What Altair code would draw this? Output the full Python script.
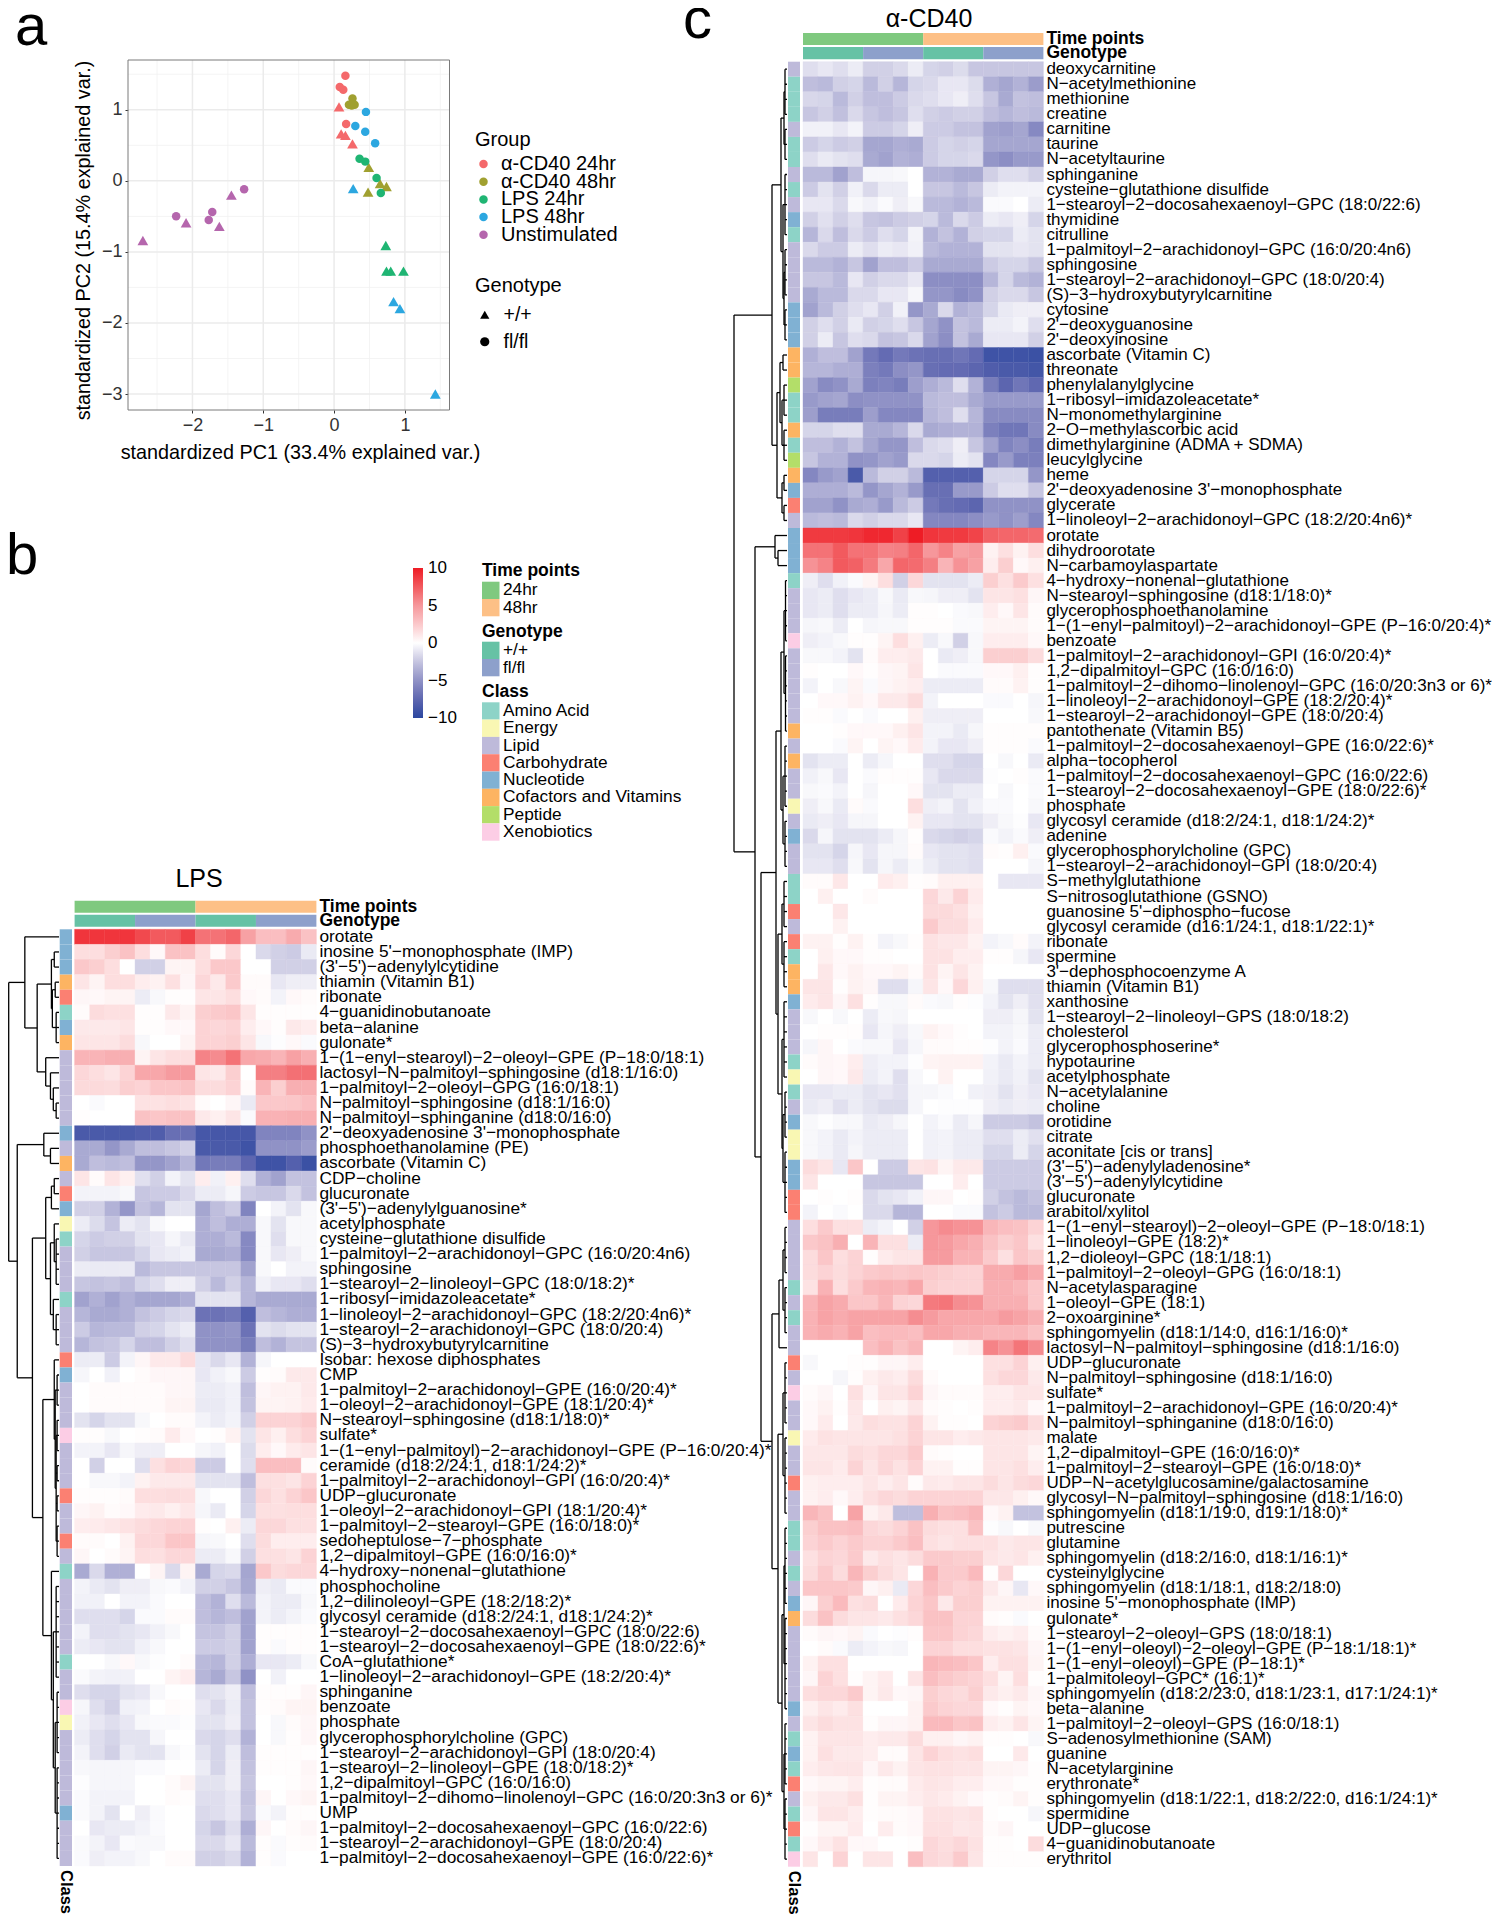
import altair as alt
import pandas as pd

W, H = 1484, 1907
FONT = "Liberation Sans"

# ---------- PCA ----------
PC_GROUPS = ["α-CD40 24hr", "α-CD40 48hr", "LPS 24hr", "LPS 48hr", "Unstimulated"]
PC_COLORS = ["#F4696B", "#A0A030", "#1FB573", "#2CA7E0", "#B566AD"]
PC_CIRCLES = [
    [(0.16, 1.48), (0.08, 1.32), (0.13, 1.28), (0.17, 0.80)],
    [(0.26, 1.16), (0.21, 1.07), (0.25, 1.06), (0.29, 1.07)],
    [(0.36, 0.31), (0.44, 0.27), (0.60, 0.04), (0.66, -0.17)],
    [(0.45, 0.97), (0.30, 0.77), (0.44, 0.69), (0.58, 0.53)],
    [(-1.27, -0.12), (-1.72, -0.44), (-1.77, -0.55), (-2.23, -0.50)],
]
PC_TRIANGLES = [
    [(0.07, 1.04), (0.10, 0.66), (0.16, 0.64), (0.26, 0.52)],
    [(0.49, 0.19), (0.65, -0.04), (0.74, -0.08), (0.48, -0.16)],
    [(0.73, -0.91), (0.74, -1.27), (0.80, -1.27), (0.98, -1.27)],
    [(0.27, -0.11), (0.84, -1.70), (0.93, -1.80), (1.43, -3.0)],
    [(-1.45, -0.20), (-2.09, -0.59), (-1.62, -0.64), (-2.70, -0.84)],
]
X_MAJOR = [-2, -1, 0, 1]
X_MINOR = [-2.5, -1.5, -0.5, 0.5, 1.5]
Y_MAJOR = [-3, -2, -1, 0, 1]
Y_MINOR = [-2.5, -1.5, -0.5, 0.5, 1.5]
X_DOM = [-2.91, 1.63]
Y_DOM = [-3.225, 1.70]

# ---------- Heat maps ----------
CLASS_NAMES = {"A": "Amino Acid", "E": "Energy", "L": "Lipid", "C": "Carbohydrate", "N": "Nucleotide",
               "V": "Cofactors and Vitamins", "P": "Peptide", "X": "Xenobiotics"}
CLASS_COLORS = ["#8dd3c7", "#f9f7b3", "#bebada", "#fb8072", "#80b1d3", "#fdb462", "#b3de69", "#fccde5"]
TIME_DOMAIN = ["24hr", "48hr"]
TIME_COLORS = ["#7fc97f", "#fdc086"]
GENO_DOMAIN = ["+/+", "fl/fl"]
GENO_COLORS = ["#66c2a5", "#8da0cb"]
HEAT_STOPS = [-10, -7.5, -5, -2.5, 0, 2.5, 5, 7.5, 10]
HEAT_COLORS = ["#2b479f", "#5e66b0", "#9092c6", "#c5c4e0", "#ffffff", "#fbc8ca", "#f6979b", "#f25a5e", "#ee1c25"]

LPS_LABELS = ["orotate", "inosine 5'−monophosphate (IMP)", "(3'−5')−adenylylcytidine", "thiamin (Vitamin B1)", "ribonate",
 "4−guanidinobutanoate", "beta−alanine", "gulonate*", "1−(1−enyl−stearoyl)−2−oleoyl−GPE (P−18:0/18:1)",
 "lactosyl−N−palmitoyl−sphingosine (d18:1/16:0)", "1−palmitoyl−2−oleoyl−GPG (16:0/18:1)", "N−palmitoyl−sphingosine (d18:1/16:0)",
 "N−palmitoyl−sphinganine (d18:0/16:0)", "2'−deoxyadenosine 3'−monophosphate", "phosphoethanolamine (PE)", "ascorbate (Vitamin C)",
 "CDP−choline", "glucuronate", "(3'−5')−adenylylguanosine*", "acetylphosphate", "cysteine−glutathione disulfide",
 "1−palmitoyl−2−arachidonoyl−GPC (16:0/20:4n6)", "sphingosine", "1−stearoyl−2−linoleoyl−GPC (18:0/18:2)*", "1−ribosyl−imidazoleacetate*",
 "1−linoleoyl−2−arachidonoyl−GPC (18:2/20:4n6)*", "1−stearoyl−2−arachidonoyl−GPC (18:0/20:4)", "(S)−3−hydroxybutyrylcarnitine",
 "Isobar: hexose diphosphates", "CMP", "1−palmitoyl−2−arachidonoyl−GPE (16:0/20:4)*", "1−oleoyl−2−arachidonoyl−GPE (18:1/20:4)*",
 "N−stearoyl−sphingosine (d18:1/18:0)*", "sulfate*", "1−(1−enyl−palmitoyl)−2−arachidonoyl−GPE (P−16:0/20:4)*",
 "ceramide (d18:2/24:1, d18:1/24:2)*", "1−palmitoyl−2−arachidonoyl−GPI (16:0/20:4)*", "UDP−glucuronate", "1−oleoyl−2−arachidonoyl−GPI (18:1/20:4)*",
 "1−palmitoyl−2−stearoyl−GPE (16:0/18:0)*", "sedoheptulose−7−phosphate", "1,2−dipalmitoyl−GPE (16:0/16:0)*", "4−hydroxy−nonenal−glutathione",
 "phosphocholine", "1,2−dilinoleoyl−GPE (18:2/18:2)*", "glycosyl ceramide (d18:2/24:1, d18:1/24:2)*", "1−stearoyl−2−docosahexaenoyl−GPC (18:0/22:6)",
 "1−stearoyl−2−docosahexaenoyl−GPE (18:0/22:6)*", "CoA−glutathione*", "1−linoleoyl−2−arachidonoyl−GPE (18:2/20:4)*", "sphinganine", "benzoate",
 "phosphate", "glycerophosphorylcholine (GPC)", "1−stearoyl−2−arachidonoyl−GPI (18:0/20:4)", "1−stearoyl−2−linoleoyl−GPE (18:0/18:2)*",
 "1,2−dipalmitoyl−GPC (16:0/16:0)", "1−palmitoyl−2−dihomo−linolenoyl−GPC (16:0/20:3n3 or 6)*", "UMP", "1−palmitoyl−2−docosahexaenoyl−GPC (16:0/22:6)",
 "1−stearoyl−2−arachidonoyl−GPE (18:0/20:4)", "1−palmitoyl−2−docosahexaenoyl−GPE (16:0/22:6)*"]
LPS_CLASSES = "NNNVCANVLLLLLNLVLCNEALLLALLLCNLLLXLLLCLLCLALLLLLALLXELLLLLNLLL"
# cell values, in tenths of a unit
LPS_VALUES = [
[90,90,90,90,82,75,75,85,65,65,70,45,30,30,40,28],
[15,15,22,28,15,3,28,28,15,2,18,0,-16,-20,-22,-9],
[25,22,15,0,-20,-20,5,5,15,25,25,0,0,-20,-20,-20],
[12,5,15,15,8,6,14,4,18,10,24,2,2,-10,-7,-7],
[4,3,5,5,-8,-3,1,1,12,12,15,3,2,-5,3,2],
[2,16,14,14,1,1,10,5,22,24,26,12,1,1,1,1],
[10,10,10,12,1,1,3,3,20,18,20,8,3,1,10,8],
[12,12,12,16,-3,0,0,5,20,20,22,12,-3,-1,3,-2],
[35,35,38,38,5,12,15,15,58,55,65,42,40,35,45,38],
[18,15,12,20,42,42,48,48,12,10,22,0,60,60,66,66],
[17,17,16,22,20,26,26,28,16,16,20,2,35,22,38,38],
[0,-2,0,0,13,13,15,13,2,0,4,-9,25,25,26,30],
[1,0,0,0,28,26,28,28,10,7,12,-2,36,36,38,38],
[-85,-85,-85,-85,-82,-82,-70,-70,-87,-87,-87,-87,-58,-58,-58,-50],
[-38,-38,-48,-38,-28,-28,-24,-20,-85,-85,-85,-90,-50,-50,-50,-45],
[-38,-28,-30,-28,-48,-48,-42,-32,-65,-62,-62,-75,-90,-90,-80,-92],
[12,2,12,7,-13,-20,-5,-12,8,-6,7,-14,-35,-42,-26,-26],
[-5,-5,-5,-3,-24,-22,-22,-16,-8,-8,-4,-22,-24,-24,-16,-26],
[-20,-20,-34,-48,-26,-32,-12,-12,-40,-28,-22,-58,0,-5,-12,-3],
[-8,-15,-25,-8,-12,-3,0,0,-36,-28,-36,-36,-3,-12,-3,-3],
[-18,-22,-20,-20,-12,-10,-4,-9,-36,-36,-30,-55,-3,-14,-3,-3],
[-20,-24,-24,-24,-18,-10,-8,-6,-38,-38,-36,-55,-3,-10,-7,-3],
[-8,-9,-9,-9,-30,-24,-24,-24,-24,-24,-24,-42,-3,0,-5,-5],
[-24,-26,-24,-28,-18,-14,-7,-7,-20,-30,-20,-32,-6,-10,-10,-14],
[-42,-35,-42,-35,-40,-40,-40,-36,-12,-12,-12,-32,-38,-38,-38,-38],
[-32,-38,-38,-35,-26,-22,-18,-16,-68,-68,-65,-80,-28,-32,-36,-36],
[-22,-32,-30,-30,-20,-18,-12,-8,-50,-50,-48,-68,-12,-15,-12,-12],
[-32,-26,-24,-18,-28,-28,-20,-14,-50,-50,-50,-62,-28,-34,-25,-25],
[-8,-8,-22,-5,4,10,10,16,-10,-16,-10,-34,-4,0,0,0],
[-4,0,-6,0,2,4,4,4,-10,-6,-3,-22,1,2,10,10],
[0,2,2,2,2,2,4,4,-8,-8,-6,-28,4,6,6,10],
[0,2,2,2,2,2,5,5,-9,-9,-6,-26,5,5,6,9],
[-12,-18,-12,-12,-3,0,2,2,-5,-8,-5,-20,20,20,20,24],
[1,1,-3,0,1,2,9,3,0,1,6,-12,12,7,15,20],
[-5,-5,-10,-4,-7,-7,0,0,-4,-6,0,-15,8,3,9,12],
[0,-20,0,0,-14,14,20,18,-22,-22,0,-14,30,30,30,2],
[0,-3,-3,-5,6,10,10,10,-12,-12,-12,-28,14,14,12,20],
[1,1,1,2,15,15,16,15,-3,0,0,-20,18,14,20,26],
[4,6,2,3,9,10,7,11,-4,-9,0,-18,14,14,15,15],
[8,9,11,13,16,18,20,20,1,0,7,-8,18,18,14,14],
[2,2,0,6,18,18,26,26,-4,-3,0,-14,16,8,8,8],
[4,0,2,5,15,14,18,18,-8,-8,-3,-20,14,14,12,20],
[-38,-16,-35,-35,0,5,-16,5,-38,-18,-16,-40,25,16,18,18],
[-5,-9,-12,-7,-7,-3,-2,-5,-20,-20,-24,-38,-7,-9,-2,-2],
[-6,-6,0,-5,-5,-2,0,0,-28,-34,-14,-30,-5,-8,-8,-3],
[-14,-14,-14,-18,-2,-2,2,2,-28,-32,-28,-42,-5,-8,-5,-2],
[-5,-14,-14,-12,-10,-6,-3,0,-25,-25,-20,-42,1,1,1,1],
[-8,-10,-12,-12,-6,-3,0,0,-22,-22,-20,-42,1,-2,1,1],
[0,0,-3,3,-3,-1,0,2,-30,-32,-20,-36,-10,-10,-8,-3],
[-2,-5,-6,-6,0,0,5,8,-32,-38,-24,-50,0,-6,0,0],
[-14,-18,-18,-12,-10,-3,0,0,-14,-12,-7,-28,1,1,1,4],
[-4,-14,-20,-6,-5,0,2,1,-10,-16,-8,-26,1,2,5,5],
[-6,-10,-14,-10,-3,-2,-2,-1,-12,-12,-7,-26,0,-3,2,4],
[-8,-14,-18,-12,-12,-4,0,0,-16,-18,-14,-34,0,-3,1,4],
[-5,-14,-20,-9,-12,-12,-3,-1,-12,-18,-8,-28,1,1,1,1],
[-3,-4,-4,-4,-2,-2,0,0,-8,-18,-7,-26,1,1,1,4],
[-1,-4,-4,-4,0,0,2,5,-12,-12,-7,-24,0,0,1,3],
[-2,-5,-5,-5,0,0,2,1,-14,-14,-10,-26,4,0,3,5],
[-2,-5,-12,0,-7,-2,0,0,-16,-14,-10,-24,-2,-5,1,1],
[0,-10,-8,-8,-5,-2,0,0,-18,-24,-14,-36,4,0,2,4],
[-2,-5,-10,-2,-3,-3,0,0,-16,-16,-10,-30,1,-2,1,2],
[-2,-7,-5,-5,-3,0,2,2,-20,-20,-16,-34,1,-2,0,0],
]
LPS_TREE = [53,
  [36, 1, [23, [8, [5, 2], [7, [4, 2], [3, 3]]], [14, 1, [9, 1, [6, 1, [3, 2]]]]]],
  [44, [16, 1, [9, 2]],
   [28, [14, [8, [5, 2], 1], [9, [5, 1, [3, 4]], [6, 1, [3, 3]]]],
    [17, [5, 1, [4, [2, 3], [3, [2, 3], [2, 2], [2, 2], [2, 3]]]],
     [8, 1, [6, [3, 7], [4, [2, 5], [2, 7]]]]]]]]

CD40_LABELS = ["deoxycarnitine", "N−acetylmethionine", "methionine", "creatine", "carnitine", "taurine", "N−acetyltaurine", "sphinganine",
 "cysteine−glutathione disulfide", "1−stearoyl−2−docosahexaenoyl−GPC (18:0/22:6)", "thymidine", "citrulline", "1−palmitoyl−2−arachidonoyl−GPC (16:0/20:4n6)",
 "sphingosine", "1−stearoyl−2−arachidonoyl−GPC (18:0/20:4)", "(S)−3−hydroxybutyrylcarnitine", "cytosine", "2'−deoxyguanosine", "2'−deoxyinosine",
 "ascorbate (Vitamin C)", "threonate", "phenylalanylglycine", "1−ribosyl−imidazoleacetate*", "N−monomethylarginine", "2−O−methylascorbic acid",
 "dimethylarginine (ADMA + SDMA)", "leucylglycine", "heme", "2'−deoxyadenosine 3'−monophosphate", "glycerate", "1−linoleoyl−2−arachidonoyl−GPC (18:2/20:4n6)*",
 "orotate", "dihydroorotate", "N−carbamoylaspartate", "4−hydroxy−nonenal−glutathione", "N−stearoyl−sphingosine (d18:1/18:0)*", "glycerophosphoethanolamine",
 "1−(1−enyl−palmitoyl)−2−arachidonoyl−GPE (P−16:0/20:4)*", "benzoate", "1−palmitoyl−2−arachidonoyl−GPI (16:0/20:4)*", "1,2−dipalmitoyl−GPC (16:0/16:0)",
 "1−palmitoyl−2−dihomo−linolenoyl−GPC (16:0/20:3n3 or 6)*", "1−linoleoyl−2−arachidonoyl−GPE (18:2/20:4)*", "1−stearoyl−2−arachidonoyl−GPE (18:0/20:4)",
 "pantothenate (Vitamin B5)", "1−palmitoyl−2−docosahexaenoyl−GPE (16:0/22:6)*", "alpha−tocopherol", "1−palmitoyl−2−docosahexaenoyl−GPC (16:0/22:6)",
 "1−stearoyl−2−docosahexaenoyl−GPE (18:0/22:6)*", "phosphate", "glycosyl ceramide (d18:2/24:1, d18:1/24:2)*", "adenine", "glycerophosphorylcholine (GPC)",
 "1−stearoyl−2−arachidonoyl−GPI (18:0/20:4)", "S−methylglutathione", "S−nitrosoglutathione (GSNO)", "guanosine 5'−diphospho−fucose",
 "glycosyl ceramide (d16:1/24:1, d18:1/22:1)*", "ribonate", "spermine", "3'−dephosphocoenzyme A", "thiamin (Vitamin B1)", "xanthosine",
 "1−stearoyl−2−linoleoyl−GPS (18:0/18:2)", "cholesterol", "glycerophosphoserine*", "hypotaurine", "acetylphosphate", "N−acetylalanine", "choline", "orotidine",
 "citrate", "aconitate [cis or trans]", "(3'−5')−adenylyladenosine*", "(3'−5')−adenylylcytidine", "glucuronate", "arabitol/xylitol",
 "1−(1−enyl−stearoyl)−2−oleoyl−GPE (P−18:0/18:1)", "1−linoleoyl−GPE (18:2)*", "1,2−dioleoyl−GPC (18:1/18:1)", "1−palmitoyl−2−oleoyl−GPG (16:0/18:1)",
 "N−acetylasparagine", "1−oleoyl−GPE (18:1)", "2−oxoarginine*", "sphingomyelin (d18:1/14:0, d16:1/16:0)*", "lactosyl−N−palmitoyl−sphingosine (d18:1/16:0)",
 "UDP−glucuronate", "N−palmitoyl−sphingosine (d18:1/16:0)", "sulfate*", "1−palmitoyl−2−arachidonoyl−GPE (16:0/20:4)*", "N−palmitoyl−sphinganine (d18:0/16:0)",
 "malate", "1,2−dipalmitoyl−GPE (16:0/16:0)*", "1−palmitoyl−2−stearoyl−GPE (16:0/18:0)*", "UDP−N−acetylglucosamine/galactosamine",
 "glycosyl−N−palmitoyl−sphingosine (d18:1/16:0)", "sphingomyelin (d18:1/19:0, d19:1/18:0)*", "putrescine", "glutamine", "sphingomyelin (d18:2/16:0, d18:1/16:1)*",
 "cysteinylglycine", "sphingomyelin (d18:1/18:1, d18:2/18:0)", "inosine 5'−monophosphate (IMP)", "gulonate*", "1−stearoyl−2−oleoyl−GPS (18:0/18:1)",
 "1−(1−enyl−oleoyl)−2−oleoyl−GPE (P−18:1/18:1)*", "1−(1−enyl−oleoyl)−GPE (P−18:1)*", "1−palmitoleoyl−GPC* (16:1)*",
 "sphingomyelin (d18:2/23:0, d18:1/23:1, d17:1/24:1)*", "beta−alanine", "1−palmitoyl−2−oleoyl−GPS (16:0/18:1)", "S−adenosylmethionine (SAM)", "guanine",
 "N−acetylarginine", "erythronate*", "sphingomyelin (d18:1/22:1, d18:2/22:0, d16:1/24:1)*", "spermidine", "UDP−glucose", "4−guanidinobutanoate", "erythritol"]
CD40_CLASSES = ("LAAALAALALNALLLLNNNVVPAAVAPVNCLNNNALLLXLLLLLVLVLLELNLLAACLCAVVNLLLAEALNEENNCC"
                "LLLLALALLCLXLLELLCLLAALALNVLLLLLNLANACLACAX")
CD40_VALUES = [
[-14,-10,-14,-8,-20,-20,-16,-8,-18,-20,-15,-24,-24,-24,-24,-24],
[-28,-30,-20,-18,-30,-20,-32,-18,-16,-10,-10,-15,-35,-40,-34,-45],
[-17,-18,-30,-20,-28,-28,-22,-16,-14,-10,-7,-14,-24,-38,-26,-28],
[-24,-20,-27,-16,-24,-28,-24,-14,-20,-22,-20,-20,-28,-32,-28,-30],
[-6,-6,-10,-5,-22,-22,-18,-7,-22,-22,-26,-26,-42,-44,-40,-55],
[-22,-18,-22,-20,-40,-40,-36,-38,-22,-18,-20,-18,-40,-40,-40,-40],
[-14,-9,-12,-14,-38,-42,-34,-36,-22,-18,-18,-16,-48,-52,-46,-46],
[-30,-30,-42,-28,-4,-4,-3,0,-34,-34,-38,-38,-20,-14,-14,-20],
[-22,-12,-20,-6,-16,-8,-8,0,-24,-24,-30,-24,-8,-5,-5,-5],
[-10,-10,-16,-3,-6,-2,-7,-3,-30,-30,-34,-30,-2,-2,0,-8],
[-20,-13,-20,-14,-24,-26,-22,-20,-18,-30,-16,-22,-8,-10,-7,-18],
[-32,-16,-28,-16,-22,-14,-18,-5,-34,-26,-34,-20,-18,-18,-8,-12],
[-16,-22,-22,-8,-14,-8,-10,-6,-30,-34,-34,-34,-12,-12,-10,-12],
[-30,-30,-34,-24,-42,-28,-28,-22,-38,-38,-38,-38,-22,-18,-18,-24],
[-24,-24,-30,-10,-20,-16,-16,-10,-52,-52,-52,-52,-32,-18,-30,-34],
[-38,-30,-30,-16,-16,-10,-10,-4,-48,-48,-54,-50,-20,-16,-16,-24],
[-42,-30,-20,-14,-10,-20,-6,-48,-38,-16,-34,-30,-18,-9,-7,-7],
[-20,-14,-20,-9,-20,-18,-14,-24,-40,-50,-26,-30,-8,-8,-5,-14],
[-20,-8,-24,-14,-16,-26,-24,-16,-42,-52,-26,-38,-10,-10,-10,-20],
[-35,-28,-28,-42,-64,-72,-64,-68,-70,-70,-66,-72,-90,-90,-90,-92],
[-32,-32,-36,-36,-60,-64,-52,-48,-70,-72,-72,-76,-82,-85,-85,-88],
[-42,-54,-50,-38,-60,-58,-62,-44,-36,-30,-14,-34,-62,-76,-66,-74],
[-46,-42,-40,-52,-50,-50,-50,-50,-30,-28,-28,-38,-46,-46,-46,-46],
[-44,-62,-62,-62,-44,-56,-56,-56,-32,-28,-14,-32,-54,-54,-54,-54],
[-18,-18,-14,-14,-38,-38,-32,-16,-38,-36,-34,-34,-60,-66,-66,-54],
[-28,-28,-34,-26,-40,-48,-48,-28,-16,-14,-7,-24,-42,-58,-52,-62],
[-24,-34,-34,-50,-48,-42,-46,-16,-16,-18,-8,-12,-56,-46,-60,-60],
[-56,-46,-42,-85,-30,-20,-20,-30,-80,-80,-80,-80,-18,-18,-18,-48],
[-36,-36,-36,-30,-48,-40,-34,-46,-70,-70,-46,-46,-22,-14,-14,-24],
[-42,-42,-50,-38,-36,-46,-30,-22,-64,-70,-72,-76,-50,-50,-50,-50],
[-30,-28,-30,-16,-20,-16,-16,-10,-56,-56,-56,-52,-46,-50,-44,-56],
[88,88,88,90,95,95,85,100,90,88,88,84,72,70,70,68],
[65,65,75,65,65,58,60,70,50,58,45,48,6,14,6,15],
[52,58,75,72,62,42,70,68,60,35,52,45,8,22,3,7],
[-7,-14,-6,-2,5,15,-20,18,-12,-12,-12,-8,22,14,24,14],
[-10,-8,-14,-10,-8,-3,-9,-3,-4,-7,-7,-12,12,12,14,4],
[-10,-8,-14,-8,-8,-4,-8,1,1,0,-2,-3,8,3,12,2],
[-4,-3,-8,0,-4,-3,-3,1,1,1,-2,-2,5,5,5,2],
[-7,-5,-3,1,1,5,15,7,-8,-3,-20,-3,8,8,8,3],
[-3,-3,-5,-12,2,8,8,10,0,-9,-7,-3,22,22,22,16],
[1,0,0,3,1,4,5,12,0,-2,-2,-2,3,3,7,1],
[-5,0,-3,5,-2,4,6,8,-8,-8,-8,-8,2,2,6,1],
[0,3,3,6,3,10,10,16,-5,0,0,0,-2,-2,0,-4],
[1,1,-2,0,-2,0,0,7,-7,-7,-7,-7,0,0,0,-3],
[0,0,1,3,3,3,7,12,-5,-5,-9,-4,1,1,1,1],
[0,0,-2,5,0,5,3,9,-5,-10,-10,-7,1,1,1,-2],
[-12,-8,-8,0,-8,-4,0,0,-14,-14,-18,-18,0,-3,0,-9],
[-6,-3,-10,0,-2,1,1,1,-10,-16,-16,-16,-1,0,1,-2],
[-3,-2,-5,0,-4,0,0,3,-12,-12,-8,-8,0,-3,0,-2],
[-7,-3,-9,2,-2,0,0,15,-7,-5,-12,-6,-2,-2,0,-3],
[-9,-7,-10,-4,-4,0,0,6,-10,-10,-12,-12,-7,-3,-1,-10],
[-16,-4,-12,-12,-12,-8,-4,1,-16,-18,-20,-18,-2,-5,-2,-7],
[-12,-12,-18,-4,-10,-4,-4,2,-10,-12,-12,-14,2,1,7,-2],
[-10,-10,-14,-3,-12,-4,-8,-3,-8,-12,-12,-14,0,0,0,-4],
[2,2,11,0,0,9,7,1,2,7,7,7,0,-10,-10,-10],
[0,7,0,0,2,0,0,0,18,10,20,9,0,0,0,0],
[0,0,11,0,0,0,0,0,17,17,14,7,0,0,0,0],
[0,0,6,0,0,0,0,0,24,16,16,9,0,0,0,0],
[6,6,1,6,1,-5,-3,1,13,11,11,6,-5,-3,2,-5],
[0,7,3,3,1,1,0,0,13,13,8,8,1,1,-4,-10],
[0,11,3,6,3,3,5,2,13,5,12,6,0,0,0,0],
[12,12,1,6,4,-14,-14,-4,12,3,18,7,-3,-14,-14,-14],
[9,12,4,14,1,-3,-3,2,-2,-3,1,-1,-5,-12,-7,-13],
[-3,0,-3,0,-8,-3,-4,0,0,0,0,0,-7,-7,-4,-12],
[0,1,1,1,-10,-4,-7,-3,6,3,1,0,-5,-5,-3,-8],
[-4,4,0,-2,-3,-3,-10,-4,2,2,1,1,-1,-5,-2,-8],
[2,4,3,8,-7,-5,-5,-1,5,6,6,6,-5,-9,-5,-8],
[0,4,3,10,-8,-5,-14,-3,0,6,0,0,-6,-9,-6,-12],
[-10,-10,-8,-8,-12,-10,-13,-4,-4,-2,0,-6,-7,-12,-7,-10],
[-9,-7,-13,-8,-12,-15,-15,-4,0,-1,-1,-1,-7,-9,-7,-8],
[-3,-1,-3,-3,-9,-7,-4,0,-5,-2,-8,-4,-22,-22,-22,-26],
[-3,-5,-9,-5,-8,-8,-8,0,-6,-5,-8,-8,-14,-14,-8,-13],
[-3,-5,-9,-4,-8,-8,-8,0,-6,-5,-8,-8,-18,-18,-8,-18],
[16,12,-10,26,0,-22,-22,12,13,5,10,10,-22,-22,-22,-22],
[12,0,0,0,-24,-24,-24,-24,0,0,8,0,-22,-22,-22,-22],
[0,1,0,1,-16,-12,-10,-6,4,4,0,1,-20,-26,-30,-26],
[-5,0,-2,0,-16,-16,-32,-32,0,0,-2,-2,-26,-22,-30,-30],
[15,24,14,14,-8,-5,0,-20,50,55,52,52,34,30,28,20],
[25,28,38,0,35,14,14,-8,50,48,42,38,28,22,26,14],
[16,26,15,20,1,9,12,12,48,48,36,36,24,14,26,22],
[16,20,16,20,24,26,24,26,24,22,20,20,40,40,46,40],
[13,36,15,24,34,36,34,42,22,20,20,20,38,38,34,25],
[35,44,40,26,26,34,20,18,62,64,54,52,38,38,38,25],
[36,44,40,44,44,44,44,54,48,42,42,42,42,48,44,38],
[36,40,36,44,30,32,32,30,42,42,38,38,34,34,34,28],
[0,0,0,0,30,36,28,34,0,0,5,8,58,52,64,55],
[-3,0,0,1,1,4,4,8,0,0,0,0,14,14,20,7],
[0,0,-4,1,7,10,8,16,2,0,0,0,14,18,18,10],
[2,4,0,14,4,12,12,20,4,2,2,2,8,8,12,12],
[3,6,1,11,0,7,5,11,2,1,0,1,8,8,10,3],
[3,9,0,10,15,13,13,20,6,1,1,0,20,22,24,16],
[9,13,12,12,12,12,14,20,12,12,8,10,12,12,12,10],
[11,11,11,16,14,18,18,24,2,1,0,0,12,12,12,5],
[12,12,9,20,12,18,13,20,6,6,1,1,12,12,14,8],
[7,8,8,8,12,8,12,2,10,9,12,12,16,12,16,18],
[6,8,3,8,14,18,16,20,20,20,20,20,11,11,7,3],
[34,28,0,44,6,10,-28,-28,38,28,30,34,3,6,-26,-26],
[22,28,28,30,18,16,20,28,16,14,14,28,-1,-3,0,-3],
[20,24,20,24,20,20,24,30,14,12,14,14,14,10,12,12],
[14,20,18,24,10,14,12,16,24,24,22,22,12,10,12,7],
[16,24,16,34,22,16,12,0,36,24,24,32,1,18,0,0],
[26,26,26,24,4,7,-9,18,30,24,20,22,10,4,-10,3],
[4,22,32,14,16,0,9,20,26,10,22,22,6,6,6,6],
[16,28,16,12,12,10,14,18,28,28,20,20,2,1,-2,0],
[2,4,3,5,-2,0,-1,1,26,26,20,18,8,6,8,2],
[0,2,-2,-8,-5,-3,-4,0,20,20,15,15,13,13,12,4],
[6,14,14,0,0,0,0,0,34,32,30,26,8,14,14,5],
[4,20,14,1,5,9,0,12,30,25,22,20,14,5,15,1],
[15,18,18,24,5,10,3,4,22,18,16,22,10,7,10,4],
[7,12,9,14,0,0,0,6,24,20,18,18,3,1,5,3],
[12,16,13,13,1,4,4,6,32,32,26,28,8,6,12,5],
[6,12,12,12,8,10,10,16,7,7,4,6,1,1,0,-3],
[6,14,10,10,8,2,2,12,20,15,13,15,0,0,10,0],
[8,11,12,12,4,10,6,12,13,13,12,12,5,5,4,1],
[3,5,5,8,1,2,2,9,12,11,8,8,3,3,1,1],
[7,10,10,14,1,5,5,8,11,9,6,3,1,2,5,1],
[4,12,12,8,1,2,2,3,13,13,12,13,1,0,0,-4],
[1,5,5,9,0,8,2,3,14,14,11,12,2,4,0,0],
[3,8,13,3,3,0,0,1,18,15,18,13,1,1,0,16],
[12,0,20,0,12,12,0,30,18,16,24,12,1,1,1,1],
]
CD40_TREE = [53,
  [15, [6, [3, [2, 4], [2, 3]], [4, [2, 5], [3, [2, 4], [2, 3]]]],
       [10, [7, [4, 2], [5, [3, 3], [3, 3]]], [5, [3, 2], [3, 2]]]],
  [32, [12, 1, [9, 2]],
   [26, [11, [6, [3, [1.5, 5], [1.5, 6]], [4, [2, 5], [2, 4]]],
         [9, [5, [3, 4], [3, 4]], [5, [3, 6], [4, [2, 4], [2, 5]]]]],
    [15, [8, [4, [2, 4], [2, 4]], 1],
     [9, [4, [2, 5], [2, 6]], [5, [3, [2, 6], [2, 7]], [3, [2, 5], [2, 5]]]]]]]]


def tree_edges(tree):
    edges, next_leaf = [], [0]
    def walk(node):
        h, kids = node[0], node[1:]
        ys = []
        for kid in kids:
            if isinstance(kid, int):
                for _ in range(kid):
                    y = next_leaf[0] + 0.5
                    next_leaf[0] += 1
                    edges.append(dict(h=0, h2=h, r=y, r2=y))
                    ys.append(y)
            else:
                ck, cy = walk(kid)
                edges.append(dict(h=ck, h2=h, r=cy, r2=cy))
                ys.append(cy)
        edges.append(dict(h=h, h2=h, r=ys[0], r2=ys[-1]))
        return h, (ys[0] + ys[-1]) / 2
    walk(tree)
    return pd.DataFrame(edges)


def pos(field, dom, rng):
    return dict(shorthand=field, scale=alt.Scale(domain=dom, range=rng, nice=False, zero=False), axis=None, title=None)


def text_value(txt, x, y, **kw):
    return alt.Chart(pd.DataFrame({"t": [txt]})).mark_text(font=FONT, **kw).encode(
        text="t:N", x=alt.value(x), y=alt.value(y))


def key_boxes(title, names, colors, title_y, top, step=17.3):
    """A block of contiguous colour keys with its heading, drawn through its own scales."""
    n = len(names)
    xr, yr = [474, 491.5], [top, top + n * step]
    d = pd.DataFrame({"k": names, "i": range(n), "i2": range(1, n + 1), "m": [i + 0.5 for i in range(n)], "a": 0, "b": 1})
    boxes = alt.Chart(d).mark_rect().encode(
        x=alt.X(**pos("a:Q", [0, 1], xr)), x2="b:Q", y=alt.Y(**pos("i:Q", [0, n], yr)), y2="i2:Q",
        color=alt.Color("k:N", scale=alt.Scale(domain=names, range=colors), legend=None))
    words = alt.Chart(d).mark_text(font=FONT, fontSize=17.3, align="left", baseline="middle", dx=3.5, color="#000").encode(
        x=alt.X(**pos("b:Q", [0, 1], xr)), y=alt.Y(**pos("m:Q", [0, n], yr)), text="k:N")
    head = text_value(title, 474, title_y, fontSize=17.5, fontWeight="bold", align="left", baseline="middle", color="#000")
    return [boxes, words, head]


def heat_panel(title, title_x, title_y, labels, classes, values, tree, hx, hy, sx, dx, ty, gy, legends, label_size):
    n = len(labels)
    layers = []
    rowpos = pos("r:Q", [0, n], hy)
    rowpos2 = "r2:Q"
    cells = pd.DataFrame([dict(r=i, r2=i + 1, c=j, c2=j + 1, v=v / 10) for i, row in enumerate(values) for j, v in enumerate(row)])
    color_scale = alt.Scale(domain=HEAT_STOPS, range=HEAT_COLORS, interpolate="rgb", clamp=True)
    # the slightly different domain keeps this scale's (hidden) legend from merging with the colour legend
    stroke_scale = alt.Scale(domain=[s * 1.0001 for s in HEAT_STOPS], range=HEAT_COLORS, interpolate="rgb", clamp=True)
    heat_legend = alt.Legend(orient="none", legendX=405, legendY=560, title=None, gradientLength=150, gradientThickness=10,
                             values=[-9.99, -5, 0, 5, 9.99], format=".0f", labelFontSize=17, labelFont=FONT, labelColor="#000",
                             gradientStrokeWidth=0, labelOffset=5) if legends else None
    layers.append(alt.Chart(cells).mark_rect(strokeWidth=0.4).encode(
        x=alt.X(**pos("c:Q", [0, 16], hx)), x2="c2:Q",
        y=alt.Y(**rowpos), y2=rowpos2,
        color=alt.Color("v:Q", scale=color_scale, legend=heat_legend),
        stroke=alt.Stroke("v:Q", scale=stroke_scale, legend=None)))
    # class strip
    strip = pd.DataFrame({"r": range(n), "r2": range(1, n + 1), "a": 0, "b": 1, "k": [CLASS_NAMES[c] for c in classes]})
    layers.append(alt.Chart(strip).mark_rect().encode(
        x=alt.X(**pos("a:Q", [0, 1], sx)), x2="b:Q", y=alt.Y(**rowpos), y2=rowpos2,
        color=alt.Color("k:N", scale=alt.Scale(domain=list(CLASS_NAMES.values()), range=CLASS_COLORS), legend=None)))
    # dendrogram
    layers.append(alt.Chart(tree_edges(tree)).mark_rule(color="#000", strokeWidth=1.3).encode(
        x=alt.X(**pos("h:Q", [0, 53], dx)), x2="h2:Q", y=alt.Y(**rowpos), y2=rowpos2))
    # annotation tracks
    tp = pd.DataFrame({"a": [0, 8], "b": [8, 16], "y0": 0, "y1": 1, "k": TIME_DOMAIN})
    layers.append(alt.Chart(tp).mark_rect().encode(
        x=alt.X(**pos("a:Q", [0, 16], hx)), x2="b:Q", y=alt.Y(**pos("y0:Q", [0, 1], ty)), y2="y1:Q",
        color=alt.Color("k:N", scale=alt.Scale(domain=TIME_DOMAIN, range=TIME_COLORS), legend=None)))
    gt = pd.DataFrame({"a": [0, 4, 8, 12], "b": [4, 8, 12, 16], "y0": 0, "y1": 1, "k": GENO_DOMAIN * 2})
    layers.append(alt.Chart(gt).mark_rect().encode(
        x=alt.X(**pos("a:Q", [0, 16], hx)), x2="b:Q", y=alt.Y(**pos("y0:Q", [0, 1], gy)), y2="y1:Q",
        color=alt.Color("k:N", scale=alt.Scale(domain=GENO_DOMAIN, range=GENO_COLORS), legend=None)))
    # text
    lab = pd.DataFrame({"t": labels, "r": [i + 0.5 for i in range(n)], "a": 16})
    layers.append(alt.Chart(lab).mark_text(font=FONT, fontSize=label_size, align="left", baseline="middle", dx=3, color="#000").encode(
        x=alt.X(**pos("a:Q", [0, 16], hx)), y=alt.Y(**rowpos), text="t:N"))
    for name, rng in (("Time points", ty), ("Genotype", gy)):
        t = pd.DataFrame({"t": [name], "a": [16], "y": [0.5]})
        layers.append(alt.Chart(t).mark_text(font=FONT, fontSize=17.5, fontWeight="bold", align="left", baseline="middle", dx=3, color="#000").encode(
            x=alt.X(**pos("a:Q", [0, 16], hx)), y=alt.Y(**pos("y:Q", [0, 1], rng)), text="t:N"))
    cl = pd.DataFrame({"t": ["Class"], "a": [0.5], "r": [n]})
    layers.append(alt.Chart(cl).mark_text(font=FONT, fontSize=16.5, fontWeight="bold", align="left", baseline="middle", angle=90, dx=4, color="#000").encode(
        x=alt.X(**pos("a:Q", [0, 1], sx)), y=alt.Y(**rowpos), text="t:N"))
    layers.append(text_value(title, title_x, title_y, fontSize=25, align="center", baseline="alphabetic", color="#000"))
    return layers


# ---------- PCA layers ----------
SX = [120, 441.5]
SY = [402, 52]
xs = lambda f: alt.X(**pos(f, X_DOM, SX))
ys = lambda f: alt.Y(**pos(f, Y_DOM, SY))
pts = []
for g, cs, ts in zip(PC_GROUPS, PC_CIRCLES, PC_TRIANGLES):
    pts += [dict(x=x, y=y, Group=g, Genotype="fl/fl") for x, y in cs]
    pts += [dict(x=x, y=y, Group=g, Genotype="+/+") for x, y in ts]
pts = pd.DataFrame(pts)

def grid(vals, size, color, vertical):
    if vertical:
        d = pd.DataFrame({"v": vals, "a": Y_DOM[0], "b": Y_DOM[1]})
        return alt.Chart(d).mark_rule(strokeWidth=size, color=color).encode(x=xs("v:Q"), y=ys("a:Q"), y2="b:Q")
    d = pd.DataFrame({"v": vals, "a": X_DOM[0], "b": X_DOM[1]})
    return alt.Chart(d).mark_rule(strokeWidth=size, color=color).encode(y=ys("v:Q"), x=xs("a:Q"), x2="b:Q")

frame = alt.Chart(pd.DataFrame({"a": [X_DOM[0]], "b": [X_DOM[1]], "c": [Y_DOM[0]], "d": [Y_DOM[1]]})).mark_rect(
    fill=None, stroke="#7a7a7a", strokeWidth=1).encode(x=xs("a:Q"), x2="b:Q", y=ys("c:Q"), y2="d:Q")

scatter = alt.Chart(pts).mark_point(filled=True, opacity=1).encode(
    x=alt.X("x:Q", scale=alt.Scale(domain=X_DOM, range=SX, nice=False, zero=False),
            axis=alt.Axis(values=X_MAJOR, title="standardized PC1 (33.4% explained var.)", offset=-(H - 402), grid=False, domain=False,
                          tickColor="#333", tickSize=3, labelColor="#333", labelFontSize=18, labelFont=FONT, titleFont=FONT, titleFontSize=19.8,
                          titleFontWeight="normal", titleColor="#000", labelPadding=3, titlePadding=8, titleX=292)),
    y=alt.Y("y:Q", scale=alt.Scale(domain=Y_DOM, range=SY, nice=False, zero=False),
            axis=alt.Axis(values=Y_MAJOR, title="standardized PC2 (15.4% explained var.)", offset=-120, grid=False, domain=False,
                          tickColor="#333", tickSize=3, labelColor="#333", labelFontSize=18, labelFont=FONT, titleFont=FONT, titleFontSize=19.8,
                          titleFontWeight="normal", titleColor="#000", labelPadding=3, titlePadding=8, titleY=232)),
    color=alt.Color("Group:N", scale=alt.Scale(domain=PC_GROUPS, range=PC_COLORS), legend=None),
    shape=alt.Shape("Genotype:N", scale=alt.Scale(domain=GENO_DOMAIN, range=["triangle-up", "circle"]),
                    legend=alt.Legend(orient="none", legendX=467, legendY=268, title="Genotype", symbolSize=85, symbolFillColor="#000", symbolStrokeWidth=0,
                                      titleFont=FONT, titleFontSize=20, titleFontWeight="normal", titleColor="#000", labelFont=FONT, labelFontSize=19.5,
                                      labelColor="#000", rowPadding=6, titlePadding=9, labelOffset=9)),
    size=alt.Size("Genotype:N", scale=alt.Scale(domain=GENO_DOMAIN[::-1], range=[72, 115]), legend=None))

# group key
GROUP_Y = [147.15, 235.65]
gk = pd.DataFrame({"k": PC_GROUPS, "i": [i + 0.5 for i in range(5)], "a": 0, "b": 1})
group_dots = alt.Chart(gk).mark_point(filled=True, opacity=1, size=72, shape="circle").encode(
    x=alt.X(**pos("a:Q", [0, 1], [475.5, 493])), y=alt.Y(**pos("i:Q", [0, 5], GROUP_Y)),
    color=alt.Color("k:N", scale=alt.Scale(domain=PC_GROUPS, range=PC_COLORS), legend=None))
group_words = alt.Chart(gk).mark_text(font=FONT, fontSize=20, align="left", baseline="middle", color="#000").encode(
    x=alt.X(**pos("b:Q", [0, 1], [475.5, 493])), y=alt.Y(**pos("i:Q", [0, 5], GROUP_Y)), text="k:N")
group_head = text_value("Group", 467, 132, fontSize=20, align="left", baseline="middle", color="#000")

layers = [grid(X_MINOR, 0.8, "#f1f1f1", True), grid(Y_MINOR, 0.8, "#f1f1f1", False), grid(X_MAJOR, 1.5, "#ebebeb", True),
          grid(Y_MAJOR, 1.5, "#ebebeb", False), frame, scatter, group_dots, group_words, group_head]
layers += heat_panel("LPS", 191, 879, LPS_LABELS, LPS_CLASSES, LPS_VALUES, LPS_TREE, [66.6, 308.4], [921.3, 1858], [51.7, 64], [51, 0.7],
                     [892.7, 904.7], [906.7, 918.7], True, 17.3)
layers += heat_panel("α-CD40", 921, 18.5, CD40_LABELS, CD40_CLASSES, CD40_VALUES, CD40_TREE, [795, 1035.4], [53.7, 1858.7], [780, 792], [779, 726],
                     [25, 37], [39, 51.3], False, 17.0)
layers += key_boxes("Time points", TIME_DOMAIN, TIME_COLORS, 563, 573.7)
layers += key_boxes("Genotype", GENO_DOMAIN, GENO_COLORS, 623.7, 633.7)
layers += key_boxes("Class", list(CLASS_NAMES.values()), CLASS_COLORS, 683.7, 694.3)
for txt, x, y in (("a", 7, 37), ("b", -2, 566), ("c", 675, 30)):
    layers.append(text_value(txt, x, y, fontSize=58, align="left", baseline="alphabetic", color="#000"))

chart = alt.layer(*layers).resolve_scale(x="independent", y="independent", color="independent", stroke="independent", shape="independent", size="independent").properties(
    width=W, height=H, autosize=alt.AutoSizeParams(type="none"), padding=0).configure_view(stroke=None)

chart.save("out.html", embed_options={"renderer": "svg", "actions": False})
